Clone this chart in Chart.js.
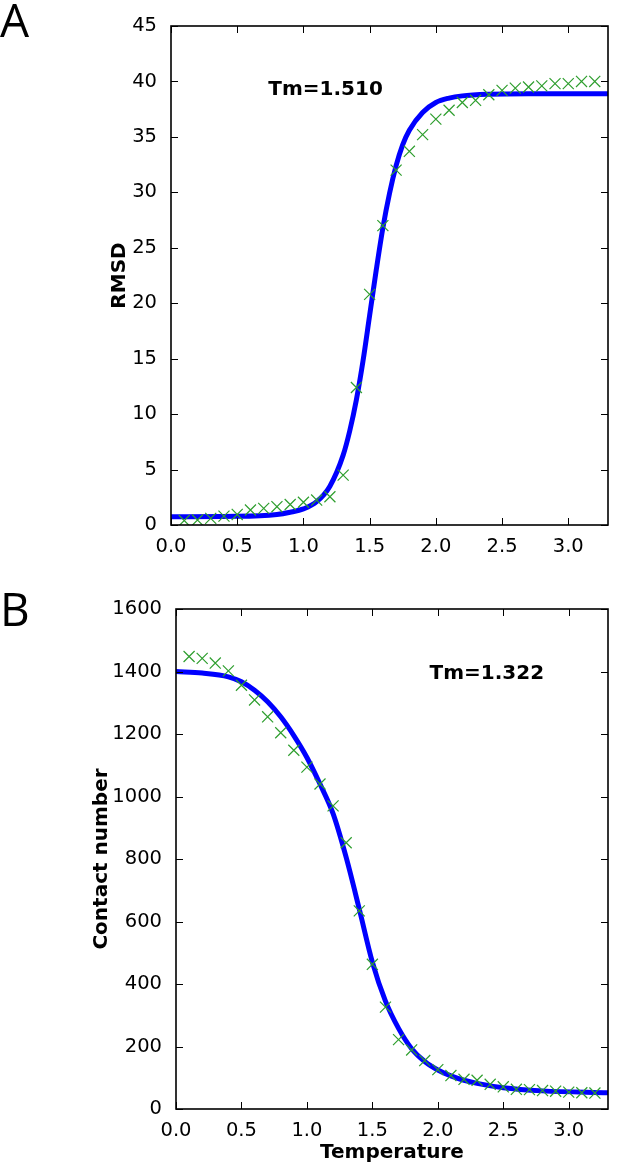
<!DOCTYPE html>
<html>
<head>
<meta charset="utf-8">
<script src="https://cdn.jsdelivr.net/npm/chart.js@4.4.1/dist/chart.umd.min.js"></script>
<style>
  body { margin: 0; background: #fff; }
  #wrap { position: relative; width: 617px; height: 1166px; }
  canvas { position: absolute; left: 0; }
  .panel { position: absolute; left: 0; font-family: 'Open Sans', sans-serif; font-size: 46px; line-height: 46px; color: #000; z-index: 2; }
</style>
</head>
<body>
<div id="wrap">
  <canvas id="chartA" width="617" height="560" style="top:0"></canvas>
  <canvas id="chartB" width="617" height="596" style="top:570px"></canvas>
  <div class="panel" style="top:-4px">A</div>
  <div class="panel" style="top:585px">B</div>
</div>
<script>
// simulation temperatures (crosses)
const temperature = [0.1, 0.2, 0.3, 0.4, 0.5, 0.6, 0.7, 0.8, 0.9, 1.0, 1.1, 1.2, 1.3, 1.4, 1.5, 1.6,
    1.7, 1.8, 1.9, 2.0, 2.1, 2.2, 2.3, 2.4, 2.5, 2.6, 2.7, 2.8, 2.9, 3.0, 3.1, 3.2];

const rmsd = [0.4, 0.45, 0.6, 0.8, 0.95, 1.35, 1.5, 1.65, 1.85, 2.05, 2.25, 2.55, 4.5, 12.4, 20.8, 27.0,
    32.0, 33.7, 35.2, 36.6, 37.4, 38.1, 38.3, 38.8, 39.2, 39.4, 39.5, 39.6, 39.8, 39.8, 40.0, 40.0];

const contacts = [1448, 1442, 1427, 1402, 1356, 1309, 1255, 1204, 1148, 1094, 1040, 970, 852, 634, 463, 326,
    222, 189, 155, 126, 107, 95, 92, 79, 71, 63, 62, 59, 57, 54, 52, 51];

// fitted curves
const fitTempA = [0, 0.5, 0.8, 0.9, 1.0, 1.1, 1.2, 1.3, 1.35, 1.4, 1.45, 1.5, 1.55, 1.6, 1.65, 1.7,
    1.75, 1.8, 1.9, 2.0, 2.1, 2.2, 2.4, 2.7, 3.3];
const fitRmsd = [0.75, 0.78, 0.95, 1.15, 1.45, 2.1, 3.5, 6.3, 8.5, 11.3, 14.8, 18.9, 23.0, 26.8, 29.9, 32.4,
    34.3, 35.6, 37.2, 38.1, 38.5, 38.7, 38.85, 38.9, 38.9];

const fitTempB = [0, 0.2, 0.4, 0.5, 0.6, 0.7, 0.8, 0.9, 1.0, 1.1, 1.2, 1.3, 1.4, 1.5, 1.6, 1.7,
    1.8, 1.9, 2.0, 2.1, 2.2, 2.3, 2.5, 2.8, 3.3];
const fitContacts = [1400, 1395, 1383, 1367, 1340, 1303, 1255, 1195, 1125, 1040, 945, 805, 640, 470, 345, 258,
    193, 152, 125, 106, 92, 82, 68, 58, 52];

const xTicks = [0, 0.5, 1.0, 1.5, 2.0, 2.5, 3.0];
const tmA = 'Tm=1.510';
const tmB = 'Tm=1.322';

Chart.defaults.font.family = 'DejaVu Sans';
Chart.defaults.color = '#000';

function pairs(xs, ys) {
    return xs.map((x, i) => ({x: x, y: ys[i]}));
}

// box with inward ticks on all four sides plus the Tm note
const frameTicks = {
    id: 'frameTicks',
    afterDatasetsDraw(chart, args, opts) {
        const {ctx, chartArea: a, scales: {x, y}} = chart;
        ctx.save();
        ctx.strokeStyle = '#000';
        ctx.lineWidth = 1;
        ctx.beginPath();
        x.ticks.forEach(t => {
            const px = Math.round(x.getPixelForValue(t.value)) + 0.5;
            ctx.moveTo(px, a.bottom); ctx.lineTo(px, a.bottom - 7);
            ctx.moveTo(px, a.top); ctx.lineTo(px, a.top + 7);
        });
        y.ticks.forEach(t => {
            const py = Math.round(y.getPixelForValue(t.value)) + 0.5;
            ctx.moveTo(a.left, py); ctx.lineTo(a.left + 7, py);
            ctx.moveTo(a.right, py); ctx.lineTo(a.right - 7, py);
        });
        ctx.stroke();
        ctx.lineWidth = 1.6;
        ctx.strokeRect(a.left, a.top, a.right - a.left, a.bottom - a.top);
        ctx.font = 'bold 20px "DejaVu Sans"';
        ctx.fillStyle = '#000';
        ctx.textBaseline = 'alphabetic';
        ctx.fillText(opts.text, x.getPixelForValue(opts.x), y.getPixelForValue(opts.y));
        ctx.restore();
    }
};

function makeChart(id, cfg) {
    return new Chart(document.getElementById(id), {
        type: 'scatter',
        data: {
            datasets: [{
                data: pairs(temperature, cfg.points),
                pointStyle: 'crossRot',
                pointRadius: 7.8,
                borderColor: '#2e9e2e',
                borderWidth: 1.2,
                showLine: false
            }, {
                data: pairs(cfg.fitX, cfg.fitY),
                showLine: true,
                borderColor: '#0000ff',
                borderWidth: 5,
                pointRadius: 0,
                cubicInterpolationMode: 'monotone'
            }]
        },
        options: {
            responsive: false,
            animation: false,
            devicePixelRatio: 1,
            layout: {padding: cfg.padding},
            plugins: {
                legend: {display: false},
                tooltip: {enabled: false},
                frameTicks: cfg.note
            },
            scales: {
                x: {
                    type: 'linear',
                    min: 0,
                    max: 3.3,
                    afterBuildTicks: s => { s.ticks = xTicks.map(v => ({value: v})); },
                    afterFit: s => { s.height = cfg.xHeight; },
                    grid: {display: false},
                    border: {display: false},
                    ticks: {
                        font: {size: 19.5},
                        padding: 2,
                        maxRotation: 0,
                        autoSkip: false,
                        callback: v => v.toFixed(1)
                    },
                    title: {
                        display: !!cfg.xTitle,
                        text: cfg.xTitle,
                        font: {size: 20, weight: 'bold'},
                        padding: {top: 0, bottom: 1}
                    }
                },
                y: {
                    type: 'linear',
                    min: 0,
                    max: cfg.yMax,
                    afterFit: s => { s.width = cfg.yWidth; },
                    grid: {display: false},
                    border: {display: false},
                    ticks: {
                        stepSize: cfg.yStep,
                        includeBounds: false,
                        font: {size: 19.5},
                        padding: 6,
                        callback: v => String(v)
                    },
                    title: {
                        display: true,
                        text: cfg.yTitle,
                        font: {size: 20, weight: 'bold'},
                        padding: {top: cfg.yTitlePad, bottom: 0}
                    }
                }
            }
        },
        plugins: [frameTicks]
    });
}

const chartA = makeChart('chartA', {
    points: rmsd,
    fitX: fitTempA,
    fitY: fitRmsd,
    yMax: 45,
    yStep: 5,
    yTitle: 'RMSD',
    yTitlePad: 108,
    yWidth: 171,
    xHeight: 35,
    xTitle: '',
    padding: {left: 0, right: 7, top: 26, bottom: 0},
    note: {text: tmA, x: 0.735, y: 38.8}
});

const chartB = makeChart('chartB', {
    points: contacts,
    fitX: fitTempB,
    fitY: fitContacts,
    yMax: 1600,
    yStep: 200,
    yTitle: 'Contact number',
    yTitlePad: 90,
    yWidth: 176,
    xHeight: 57,
    xTitle: 'Temperature',
    padding: {left: 0, right: 2, top: 39, bottom: 0},
    note: {text: tmB, x: 1.937, y: 1376}
});
</script>
</body>
</html>
